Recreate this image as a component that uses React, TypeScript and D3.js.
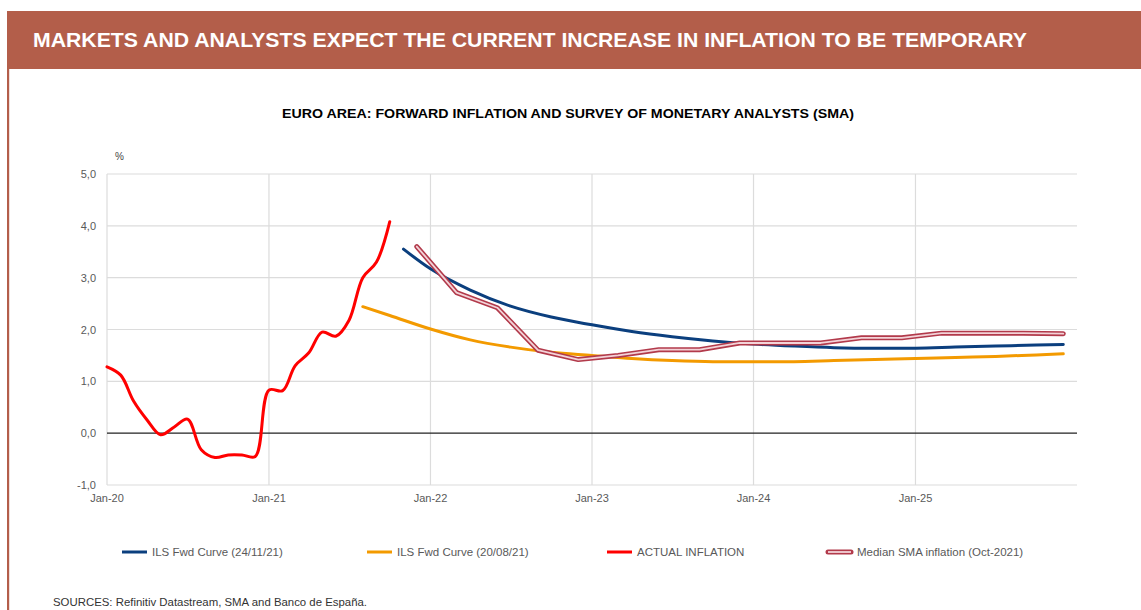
import React from "react";
import * as d3 from "d3";

// Monthly euro area HICP inflation (%), Jan 2020 – Oct 2021
const actualMonths = [
  "2020-01", "2020-02", "2020-03", "2020-04", "2020-05", "2020-06", "2020-07", "2020-08",
  "2020-09", "2020-10", "2020-11", "2020-12", "2021-01", "2021-02", "2021-03", "2021-04",
  "2021-05", "2021-06", "2021-07", "2021-08", "2021-09", "2021-10",
];
const actualValues = [
  1.28, 1.12, 0.62, 0.25, -0.03, 0.12, 0.27, -0.32, -0.47, -0.42, -0.42, -0.45,
  0.83, 0.82, 1.3, 1.55, 1.95, 1.87, 2.18, 3.0, 3.3, 4.08,
];

// ILS forward curve as of 24/11/21
const fwdNovMonths = [
  "2021-11", "2022-01", "2022-04", "2022-07", "2022-10", "2023-01", "2023-04", "2023-07",
  "2023-10", "2024-01", "2024-04", "2024-07", "2024-10", "2025-01", "2025-04", "2025-07",
  "2025-10", "2025-12",
];
const fwdNovValues = [
  3.55, 3.17, 2.76, 2.45, 2.24, 2.09, 1.96, 1.86, 1.78, 1.72, 1.68, 1.65, 1.64, 1.64,
  1.66, 1.68, 1.7, 1.71,
];

// ILS forward curve as of 20/08/21
const fwdAugMonths = [
  "2021-08", "2021-10", "2022-01", "2022-04", "2022-07", "2022-10", "2023-01", "2023-04",
  "2023-07", "2023-10", "2024-01", "2024-04", "2024-07", "2024-10", "2025-01", "2025-04",
  "2025-07", "2025-10", "2025-12",
];
const fwdAugValues = [
  2.44, 2.27, 2.01, 1.8, 1.66, 1.56, 1.5, 1.44, 1.4, 1.38, 1.38, 1.38, 1.4, 1.42, 1.44,
  1.46, 1.48, 1.51, 1.53,
];

// Median SMA inflation expectations (Oct-2021 survey), quarterly
const smaMonths = [
  "2021-12", "2022-03", "2022-06", "2022-09", "2022-12", "2023-03", "2023-06", "2023-09",
  "2023-12", "2024-03", "2024-06", "2024-09", "2024-12", "2025-03", "2025-06", "2025-09",
  "2025-12",
];
const smaValues = [
  3.6, 2.71, 2.42, 1.6, 1.42, 1.5, 1.61, 1.61, 1.74, 1.74, 1.74, 1.84, 1.84, 1.93, 1.93,
  1.93, 1.92,
];

const yTicks = [-1, 0, 1, 2, 3, 4, 5];
const xTickYears = [2020, 2021, 2022, 2023, 2024, 2025];

const legendItems = [
  { label: "ILS Fwd Curve (24/11/21)", color: "#0b3f7e", kind: "line", x: 122 },
  { label: "ILS Fwd Curve (20/08/21)", color: "#f39a00", kind: "line", x: 367 },
  { label: "ACTUAL INFLATION", color: "#ff0000", kind: "line", x: 607 },
  { label: "Median SMA inflation (Oct-2021)", color: "#b23a4b", kind: "double", x: 827 },
];

const parseMonth = d3.timeParse("%Y-%m");
type Pt = { date: Date; value: number };
const toPoints = (months: string[], values: number[]): Pt[] =>
  months.map((m, i) => ({ date: parseMonth(m) as Date, value: values[i] }));

const FONT = "'Liberation Sans', Arial, Helvetica, sans-serif";

export default function App() {
  const W = 1141;
  const H = 610;
  const x = d3
    .scaleTime()
    .domain([new Date(2020, 0, 1), new Date(2026, 0, 1)])
    .range([107, 1077]);
  const y = d3.scaleLinear().domain([-1, 5]).range([485, 174]);

  const smooth = d3
    .line<Pt>()
    .x((d) => x(d.date))
    .y((d) => y(d.value))
    .curve(d3.curveCatmullRom.alpha(0.5));
  const curve = d3
    .line<Pt>()
    .x((d) => x(d.date))
    .y((d) => y(d.value))
    .curve(d3.curveMonotoneX);
  const straight = d3
    .line<Pt>()
    .x((d) => x(d.date))
    .y((d) => y(d.value));

  const actual = toPoints(actualMonths, actualValues);
  const fwdNov = toPoints(fwdNovMonths, fwdNovValues);
  const fwdAug = toPoints(fwdAugMonths, fwdAugValues);
  const sma = toPoints(smaMonths, smaValues);

  const fmt = (v: number) => v.toFixed(1).replace(".", ",");

  return (
    <svg
      width={W}
      height={H}
      style={{ position: "absolute", left: 0, top: 0, background: "#fff" }}
      fontFamily={FONT}
    >
      {/* header band */}
      <rect x={7} y={11} width={W - 7} height={58} fill="#b35e4a" />
      <rect x={7} y={69} width={2.2} height={H - 69} fill="#b35e4a" />
      <text
        x={33}
        y={46.5}
        fill="#fff"
        fontSize={20}
        fontWeight="bold"
        textLength={994}
        lengthAdjust="spacingAndGlyphs"
      >
        MARKETS AND ANALYSTS EXPECT THE CURRENT INCREASE IN INFLATION TO BE TEMPORARY
      </text>

      {/* chart title */}
      <text
        x={568}
        y={118}
        textAnchor="middle"
        fontSize={12}
        fontWeight="bold"
        fill="#000"
        textLength={572}
        lengthAdjust="spacingAndGlyphs"
      >
        EURO AREA: FORWARD INFLATION AND SURVEY OF MONETARY ANALYSTS (SMA)
      </text>

      <text x={119.5} y={160} textAnchor="middle" fontSize={10} fill="#444">
        %
      </text>

      {/* gridlines */}
      {yTicks
        .filter((t) => t !== 0)
        .map((t) => (
          <line
            key={"gy" + t}
            x1={107}
            x2={1077}
            y1={y(t)}
            y2={y(t)}
            stroke="#dcdcdc"
            strokeWidth={1.2}
          />
        ))}
      {xTickYears.map((yr) => (
        <line
          key={"gx" + yr}
          x1={x(new Date(yr, 0, 1))}
          x2={x(new Date(yr, 0, 1))}
          y1={174}
          y2={485}
          stroke="#dcdcdc"
          strokeWidth={1.2}
        />
      ))}
      <line x1={107} x2={1077} y1={y(0)} y2={y(0)} stroke="#222" strokeWidth={1.2} />

      {/* axis labels */}
      {yTicks.map((t) => (
        <text
          key={"ty" + t}
          x={96}
          y={y(t) + 4}
          textAnchor="end"
          fontSize={11}
          fill="#595959"
        >
          {fmt(t)}
        </text>
      ))}
      {xTickYears.map((yr) => (
        <text
          key={"tx" + yr}
          x={x(new Date(yr, 0, 1))}
          y={502}
          textAnchor="middle"
          fontSize={11}
          fill="#595959"
        >
          {"Jan-" + String(yr).slice(2)}
        </text>
      ))}

      {/* series */}
      <path d={curve(fwdAug) ?? ""} fill="none" stroke="#f39a00" strokeWidth={3} strokeLinecap="round" />
      <path d={curve(fwdNov) ?? ""} fill="none" stroke="#0b3f7e" strokeWidth={3} strokeLinecap="round" />
      <path
        d={straight(sma) ?? ""}
        fill="none"
        stroke="#b23a4b"
        strokeWidth={5}
        strokeLinecap="round"
        strokeLinejoin="round"
      />
      <path
        d={straight(sma) ?? ""}
        fill="none"
        stroke="#f3d3d8"
        strokeWidth={1.8}
        strokeLinecap="round"
        strokeLinejoin="round"
      />
      <path d={smooth(actual) ?? ""} fill="none" stroke="#ff0000" strokeWidth={3} strokeLinecap="round" />

      {/* legend */}
      {legendItems.map((it) => (
        <g key={it.label}>
          {it.kind === "line" ? (
            <line x1={it.x} x2={it.x + 25} y1={552} y2={552} stroke={it.color} strokeWidth={3} />
          ) : (
            <g>
              <line
                x1={it.x + 1}
                x2={it.x + 24}
                y1={552}
                y2={552}
                stroke={it.color}
                strokeWidth={5}
                strokeLinecap="round"
              />
              <line x1={it.x + 1} x2={it.x + 24} y1={552} y2={552} stroke="#f3d3d8" strokeWidth={1.8} />
            </g>
          )}
          <text x={it.x + 30} y={556} fontSize={11.5} fill="#595959">
            {it.label}
          </text>
        </g>
      ))}

      {/* sources */}
      <text x={53} y={606} fontSize={11} fill="#333" textLength={314} lengthAdjust="spacingAndGlyphs">
        SOURCES: Refinitiv Datastream, SMA and Banco de España.
      </text>
    </svg>
  );
}
